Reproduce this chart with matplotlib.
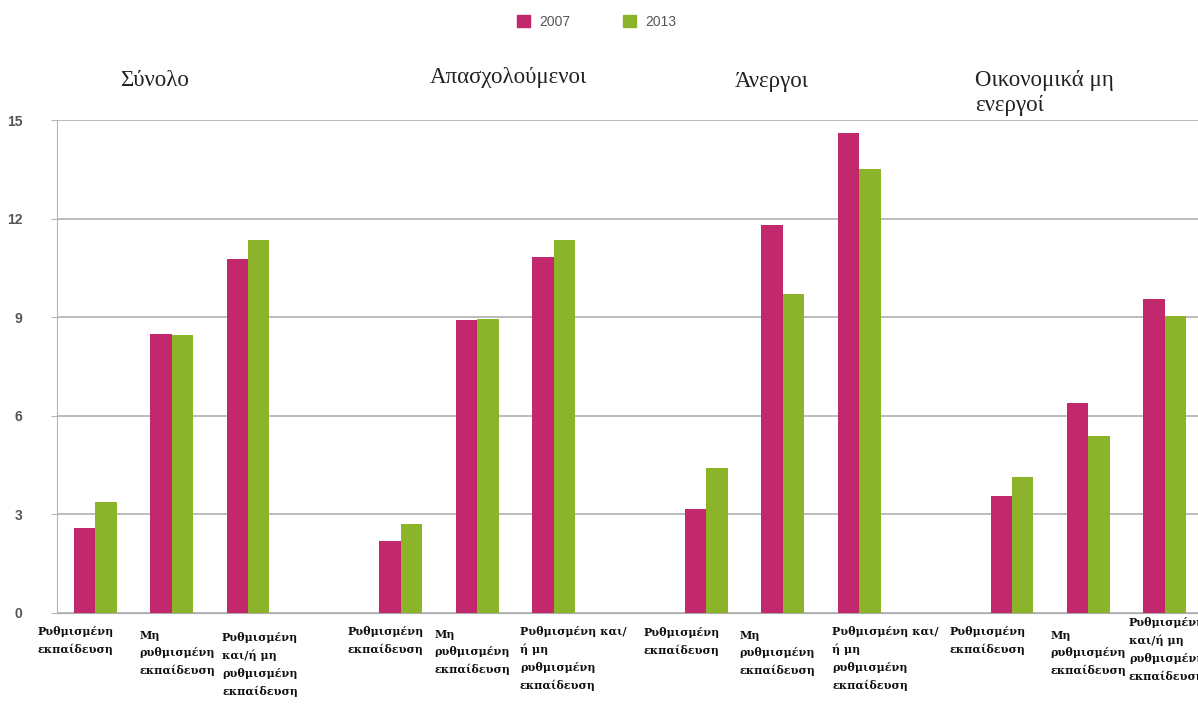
import numpy as np
import matplotlib
matplotlib.use("Agg")
import matplotlib.pyplot as plt
from matplotlib.patches import Patch
from matplotlib.transforms import blended_transform_factory

# groups and education categories (empty slot between groups)
groups = ["Σύνολο", "Απασχολούμενοι", "Άνεργοι", "Οικονομικά μη\nενεργοί"]
slots = [0, 1, 2, 4, 5, 6, 8, 9, 10, 12, 13, 14]
cat_labels = [
    "Ρυθμισμένη\nεκπαίδευση",
    "Μη\nρυθμισμένη\nεκπαίδευση",
    "Ρυθμισμένη\nκαι/ή μη\nρυθμισμένη\nεκπαίδευση",
    "Ρυθμισμένη\nεκπαίδευση",
    "Μη\nρυθμισμένη\nεκπαίδευση",
    "Ρυθμισμένη και/\nή μη\nρυθμισμένη\nεκπαίδευση",
    "Ρυθμισμένη\nεκπαίδευση",
    "Μη\nρυθμισμένη\nεκπαίδευση",
    "Ρυθμισμένη και/\nή μη\nρυθμισμένη\nεκπαίδευση",
    "Ρυθμισμένη\nεκπαίδευση",
    "Μη\nρυθμισμένη\nεκπαίδευση",
    "Ρυθμισμένη\nκαι/ή μη\nρυθμισμένη\nεκπαίδευση",
]
vals_2007 = [2.6, 8.5, 10.78, 2.2, 8.9, 10.82, 3.15, 11.8, 14.6, 3.55, 6.4, 9.55]
vals_2013 = [3.39, 8.45, 11.36, 2.7, 8.95, 11.36, 4.4, 9.7, 13.5, 4.15, 5.4, 9.05]
years = ["2007", "2013"]
yticks = [0, 3, 6, 9, 12, 15]

c07 = "#c2286c"
c13 = "#8cb42a"

W, H = 1198, 710
fig = plt.figure(figsize=(W / 100, H / 100), dpi=100)
ax = fig.add_axes([57 / W, 1 - 613 / H, 1146 / W, (613 - 120) / H])

x = np.array(slots, dtype=float)
bw = 0.28
ax.bar(x - bw / 2, vals_2007, bw, color=c07, zorder=3)
ax.bar(x + bw / 2, vals_2013, bw, color=c13, zorder=3)

ax.set_xlim(-0.5, 14.5)
ax.set_ylim(0, 15)
ax.set_yticks(yticks)
ax.set_xticks([])
ax.grid(axis="y", color="#a9a9a9", lw=1.1, zorder=0)
for s in ["top", "right"]:
    ax.spines[s].set_visible(False)
ax.spines["left"].set_color("#b5b5b5")
ax.spines["bottom"].set_color("#a9a9a9")
ax.tick_params(axis="y", length=4, color="#b5b5b5", pad=21,
               labelsize=10, labelcolor="#555555")
for t in ax.get_yticklabels():
    t.set_fontweight("bold")
    t.set_family("Liberation Sans")

# category labels under the bars, hand placed
lab_dx = [-0.75, -0.42, -0.34, -0.70, -0.56, -0.44, -0.82, -0.57, -0.35, -0.82, -0.50, -0.47]
lab_top = [626, 630, 632, 626, 629, 626, 627, 630, 626, 626, 630, 617]
tr = blended_transform_factory(ax.transData, fig.transFigure)
for s, lab, dx, top in zip(slots, cat_labels, lab_dx, lab_top):
    ax.text(s + dx, 1 - top / H, lab, transform=tr, ha="left", va="top",
            family="DejaVu Serif", fontweight="bold", fontsize=8.0,
            linespacing=1.72, color="#111111", clip_on=False)

# group titles
title_pos = [(120, 80), (430, 78), (735, 82), (975, 93)]
for g, (px, py) in zip(groups, title_pos):
    fig.text(px / W, 1 - py / H, g, ha="left", va="center",
             family="Liberation Serif", fontsize=16.5, linespacing=1.3,
             color="#222222")

handles = [Patch(color=c07), Patch(color=c13)]
fig.legend(handles, years, loc="center", bbox_to_anchor=(597 / W, 1 - 22 / H),
           ncol=2, frameon=False, handlelength=0.9,
           handleheight=0.9, handletextpad=0.7, columnspacing=3.8,
           labelcolor="#555555", prop={"family": "Liberation Sans", "size": 10})

fig.savefig("out.png", dpi=100)
